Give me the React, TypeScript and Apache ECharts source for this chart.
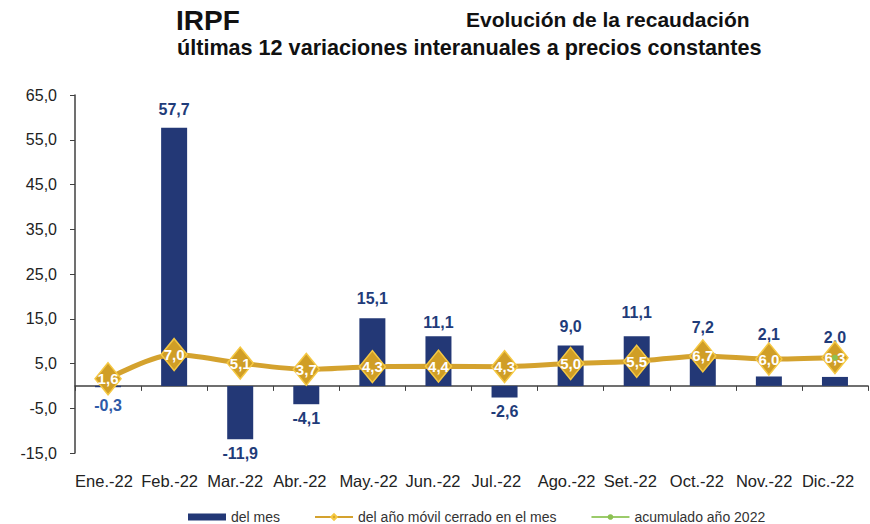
import React, { useEffect, useRef } from "react";
import * as echarts from "echarts";

const categories = ["Ene.-22", "Feb.-22", "Mar.-22", "Abr.-22", "May.-22", "Jun.-22", "Jul.-22", "Ago.-22", "Set.-22", "Oct.-22", "Nov.-22", "Dic.-22"];
const delMes = [-0.3, 57.7, -11.9, -4.1, 15.1, 11.1, -2.6, 9.0, 11.1, 7.2, 2.1, 2.0];
const anoMovil = [1.6, 7.0, 5.1, 3.7, 4.3, 4.4, 4.3, 5.0, 5.5, 6.7, 6.0, 6.3];
const acumulado = [null, null, null, null, null, null, null, null, null, null, null, 6.3];
const yTicks = { min: -15, max: 65, interval: 10 };
// vertical nudges of the bar labels (style only)
const barLabelNudge = [4, -4, 0, 0, -6, 0, 0, -5, -10, -12, -28, -25];

const fmt = (v: number) => v.toFixed(1).replace(".", ",");
const FONT = "Liberation Sans, Arial, sans-serif";

export default function App() {
  const ref = useRef<HTMLDivElement>(null);
  useEffect(() => {
    document.body.style.margin = "0";
    document.body.style.overflow = "hidden";
    if (!ref.current) return;
    const chart = echarts.init(ref.current, undefined, { renderer: "svg" });
    chart.setOption({
      animation: false,
      backgroundColor: "#ffffff",
      title: [
        { text: "IRPF", left: 176, top: 6, padding: 0, textStyle: { fontFamily: FONT, fontSize: 28, fontWeight: "bold", color: "#111" } },
        { text: "Evolución de la recaudación", left: 466, top: 9, padding: 0, textStyle: { fontFamily: FONT, fontSize: 21, fontWeight: "bold", color: "#111" } },
        { text: "últimas 12 variaciones interanuales a precios constantes", left: 177, top: 36, padding: 0, textStyle: { fontFamily: FONT, fontSize: 21.6, fontWeight: "bold", color: "#111" } },
      ],
      legend: {
        top: 510,
        left: 188,
        padding: 0,
        itemWidth: 38,
        itemHeight: 7,
        itemGap: 34,
        textStyle: { fontFamily: FONT, fontSize: 14, color: "#333" },
        data: [
          { name: "del mes", icon: "rect" },
          { name: "del año móvil cerrado en el mes" },
          { name: "acumulado año 2022" },
        ],
      },
      grid: { left: 75, right: 2, top: 95, bottom: 71, containLabel: false },
      xAxis: {
        type: "category",
        data: categories,
        boundaryGap: true,
        axisLine: { onZero: true, lineStyle: { color: "#404040", width: 1.5 } },
        axisTick: { show: true, alignWithLabel: false, inside: false, length: 5, lineStyle: { color: "#404040" } },
        axisLabel: { show: false },
      },
      yAxis: {
        type: "value",
        min: yTicks.min,
        max: yTicks.max,
        interval: yTicks.interval,
        splitLine: { show: false },
        axisLine: { show: true, lineStyle: { color: "#404040", width: 1.5 } },
        axisTick: { show: true, length: 5, lineStyle: { color: "#404040" } },
        axisLabel: { fontFamily: FONT, fontSize: 16, color: "#222", margin: 18, formatter: (v: number) => fmt(v) },
      },
      graphic: categories.map((c, i) => ({
        type: "text",
        left: 75 + (793 / 12) * i + 793 / 24 - 33,
        top: 472,
        style: { text: c, fontFamily: FONT, fontSize: 16.5, fill: "#222", width: 66, align: "center" },
      })),
      series: [
        {
          name: "del mes",
          type: "bar",
          data: delMes.map((v, i) =>
            v < 0
              ? { value: v, label: { position: "bottom", offset: [0, barLabelNudge[i]], color: v > -1 ? "#2F5AA8" : "#1F3C7A" } }
              : { value: v, label: { offset: [0, barLabelNudge[i]] } }
          ),
          barWidth: 26,
          itemStyle: { color: "#233876" },
          label: {
            show: true,
            position: "top",
            distance: 6,
            fontFamily: FONT,
            fontSize: 16,
            fontWeight: "bold",
            color: "#1F3C7A",
            formatter: (p: any) => fmt(p.value),
          },
          z: 2,
        },
        {
          name: "del año móvil cerrado en el mes",
          type: "line",
          data: anoMovil,
          smooth: 0.3,
          symbol: "diamond",
          symbolSize: [26, 32],
          lineStyle: { color: "#D4A22E", width: 5 },
          itemStyle: { color: "#D09E26", borderColor: "#F5C842", borderWidth: 1.5 },
          label: {
            show: true,
            position: "inside",
            fontFamily: FONT,
            fontSize: 15,
            fontWeight: "bold",
            color: "#ffffff",
            formatter: (p: any) => fmt(p.value),
          },
          z: 3,
        },
        {
          name: "acumulado año 2022",
          type: "line",
          data: acumulado,
          symbol: "circle",
          symbolSize: 6,
          lineStyle: { color: "#9BCB6A", width: 2 },
          itemStyle: { color: "#8CC152" },
          z: 4,
        },
      ],
    });
    return () => chart.dispose();
  }, []);
  return <div ref={ref} style={{ width: 870, height: 524 }} />;
}
